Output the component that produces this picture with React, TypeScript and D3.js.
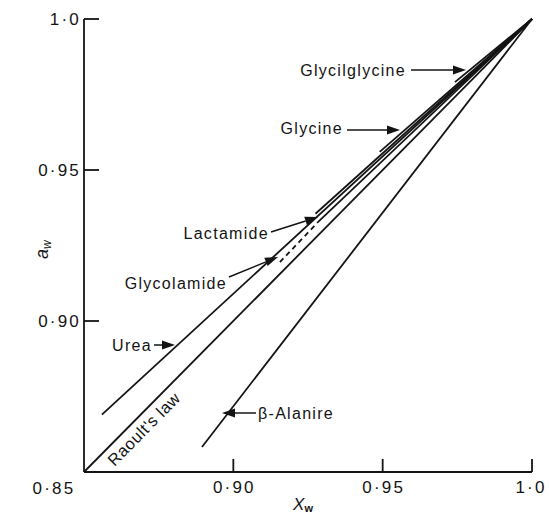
import React from "react";
import * as d3 from "d3";

// Water activity (a_w) against mole fraction of water (X_w)
const raoultX = [0.85, 1.0];
const raoultY = [0.85, 1.0];
const ureaX = [0.856, 1.0];
const ureaY = [0.869, 1.0];
const alanineX = [0.8895, 1.0];
const alanineY = [0.8583, 1.0];
const glycolamideDashX = [0.9156, 0.9284];
const glycolamideDashY = [0.9195, 0.9328];
const glycolamideX = [0.9284, 1.0];
const glycolamideY = [0.9328, 1.0];
const lactamideX = [0.9275, 1.0];
const lactamideY = [0.9355, 1.0];
const glycineX = [0.949, 1.0];
const glycineY = [0.956, 1.0];
const glycylglycineX = [0.9742, 1.0];
const glycylglycineY = [0.9791, 1.0];

const xTicks = [0.9, 0.95, 1.0];
const yTicks = [0.9, 0.95, 1.0];
const xTickLabels = ["0·90", "0·95", "1·0"];
const yTickLabels = ["0·90", "0·95", "1·0"];

const W = 549;
const H = 516;
const FONT = "'Liberation Sans', Arial, sans-serif";
const INK = "#141414";

const x = d3.scaleLinear().domain([0.85, 1.0]).range([84, 532]);
const y = d3.scaleLinear().domain([0.85, 1.0]).range([472, 19]);

const line = d3
  .line<[number, number]>()
  .x((d) => x(d[0]))
  .y((d) => y(d[1]));

const pts = (xs: number[], ys: number[]) =>
  xs.map((v, i) => [v, ys[i]] as [number, number]);

type Curve = { xs: number[]; ys: number[]; dash?: string };
const curves: Curve[] = [
  { xs: raoultX, ys: raoultY },
  { xs: ureaX, ys: ureaY },
  { xs: alanineX, ys: alanineY },
  { xs: glycolamideDashX, ys: glycolamideDashY, dash: "5,4" },
  { xs: glycolamideX, ys: glycolamideY },
  { xs: lactamideX, ys: lactamideY },
  { xs: glycineX, ys: glycineY },
  { xs: glycylglycineX, ys: glycylglycineY },
];

// Labels with arrows: text anchor, arrow start, arrow tip (pixels)
type Note = {
  text: string;
  tx: number;
  ty: number;
  anchor: "start" | "end";
  ax: number;
  ay: number;
  bx: number;
  by: number;
};
const notes: Note[] = [
  { text: "Glycilglycine", tx: 406, ty: 76, anchor: "end", ax: 411, ay: 70, bx: 466, by: 70 },
  { text: "Glycine", tx: 343, ty: 134, anchor: "end", ax: 347, ay: 130, bx: 400, by: 130 },
  { text: "Lactamide", tx: 269, ty: 239, anchor: "end", ax: 271, ay: 232, bx: 318, by: 217 },
  { text: "Glycolamide", tx: 227, ty: 289, anchor: "end", ax: 229, ay: 277, bx: 278, by: 257 },
  { text: "Urea", tx: 152, ty: 351, anchor: "end", ax: 154, ay: 345, bx: 175, by: 345 },
  { text: "β-Alanire", tx: 258, ty: 419, anchor: "start", ax: 256, ay: 413, bx: 222, by: 413 },
];

function Arrow({ n }: { n: Note }) {
  const ang = Math.atan2(n.by - n.ay, n.bx - n.ax);
  const L = 13;
  const hw = 4.5;
  const baseX = n.bx - L * Math.cos(ang);
  const baseY = n.by - L * Math.sin(ang);
  const px = -Math.sin(ang) * hw;
  const py = Math.cos(ang) * hw;
  const head = `M${n.bx},${n.by} L${baseX + px},${baseY + py} L${baseX - px},${baseY - py} Z`;
  return (
    <g>
      <line x1={n.ax} y1={n.ay} x2={baseX} y2={baseY} stroke={INK} strokeWidth={1.5} />
      <path d={head} fill={INK} />
    </g>
  );
}

export default function App() {
  const rAngle = (Math.atan2(y(1) - y(0.85), x(1) - x(0.85)) * 180) / Math.PI;
  const tickFont = { fontFamily: FONT, fontSize: 17, letterSpacing: 2.2, fill: INK };
  return (
    <svg width={W} height={H} style={{ position: "absolute", left: 0, top: 0, background: "#fff" }}>
      <rect width={W} height={H} fill="#fff" />
      {/* axes */}
      <line x1={x(0.85)} y1={y(1.0)} x2={x(0.85)} y2={y(0.85)} stroke={INK} strokeWidth={1.8} />
      <line x1={x(0.85)} y1={y(0.85)} x2={x(1.0)} y2={y(0.85)} stroke={INK} strokeWidth={1.8} />
      {yTicks.map((t, i) => (
        <g key={"y" + i}>
          <line x1={x(0.85)} y1={y(t)} x2={x(0.85) + 15} y2={y(t)} stroke={INK} strokeWidth={1.8} />
          <text x={81} y={y(t) + 6} textAnchor="end" {...tickFont}>
            {yTickLabels[i]}
          </text>
        </g>
      ))}
      {xTicks.map((t, i) => (
        <g key={"x" + i}>
          <line x1={x(t)} y1={y(0.85)} x2={x(t)} y2={y(0.85) - 13} stroke={INK} strokeWidth={1.8} />
          <text x={x(t) + 1 - (t === 1 ? 2 : 0)} y={493} textAnchor="middle" {...tickFont}>
            {xTickLabels[i]}
          </text>
        </g>
      ))}
      <text x={54} y={494} textAnchor="middle" {...tickFont}>
        0·85
      </text>
      {/* axis titles */}
      <text x={303} y={510} textAnchor="middle" fontFamily={FONT} fontSize={17} fill={INK}>
        <tspan fontStyle="italic">X</tspan>
        <tspan fontSize={11} dy={2} fontWeight="bold">w</tspan>
      </text>
      <g transform="translate(48,259) rotate(-90)">
        <text x={0} y={0} fontFamily={FONT} fontSize={18} fill={INK}>
          <tspan fontStyle="italic">a</tspan>
          <tspan fontSize={12} dy={3} fontStyle="italic">w</tspan>
        </text>
      </g>
      {/* curves */}
      {curves.map((c, i) => (
        <path
          key={"c" + i}
          d={line(pts(c.xs, c.ys)) || ""}
          fill="none"
          stroke={INK}
          strokeWidth={1.8}
          strokeDasharray={c.dash}
        />
      ))}
      {/* Raoult's law label along its line */}
      <g transform={`translate(148,433) rotate(${rAngle})`}>
        <text x={0} y={0} textAnchor="middle" fontFamily={FONT} fontSize={16.5} letterSpacing={0.6} fill={INK}>
          Raoult's law
        </text>
      </g>
      {/* annotations */}
      {notes.map((n, i) => (
        <g key={"n" + i}>
          <text
            x={n.tx}
            y={n.ty}
            textAnchor={n.anchor}
            fontFamily={FONT}
            fontSize={16}
            letterSpacing={1.3}
            fill={INK}
          >
            {n.text}
          </text>
          <Arrow n={n} />
        </g>
      ))}
    </svg>
  );
}
